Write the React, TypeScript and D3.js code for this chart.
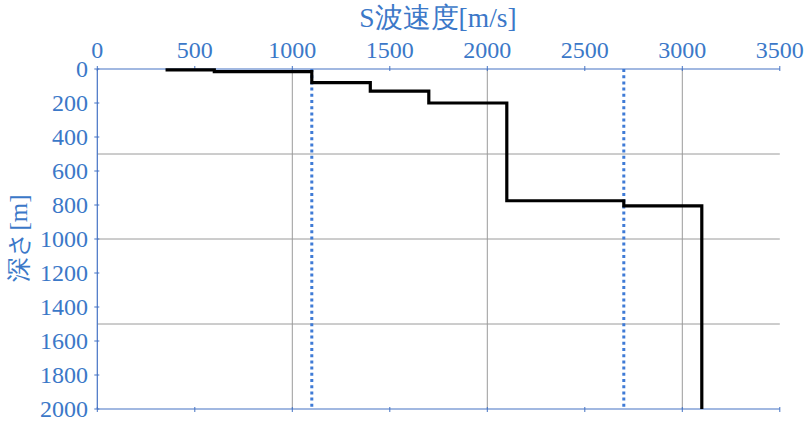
import React from "react";
import * as d3 from "d3";

// Data: layered S-wave velocity profile
const velocities = [350, 600, 1100, 1400, 1700, 2100, 2700, 3100]; // m/s
const layerDepths = [5, 15, 80, 130, 200, 775, 805, 2000]; // m (bottom of step at each velocity)
const refVelocities = [1100, 2700]; // dotted reference lines
const xTicks = [0, 500, 1000, 1500, 2000, 2500, 3000, 3500];
const yTicks = [0, 200, 400, 600, 800, 1000, 1200, 1400, 1600, 1800, 2000];
const xGrid = [1000, 2000, 3000];
const yGrid = [500, 1000, 1500];
const xTitle = "S波速度[m/s]";
const yTitle = "深さ[m]";

const W = 810;
const H = 426;
const left = 97.3;
const right = 779.8;
const top = 69;
const bottom = 409;

const AXIS = "#4472C4";
const TEXT = "#3B78C8";
const FONT = '"Liberation Serif", "Times New Roman", "DejaVu Serif", serif';
const tStyle = { fontFamily: FONT } as React.CSSProperties;

export default function App() {
  const x = d3.scaleLinear().domain([0, 3500]).range([left, right]);
  const y = d3.scaleLinear().domain([0, 2000]).range([top, bottom]);

  // horizontal at depth d_{i-1} up to v_i, then vertical at v_i down to d_i
  const stepPts: [number, number][] = [];
  for (let i = 0; i < velocities.length; i++) {
    const d0 = i === 0 ? layerDepths[0] : layerDepths[i - 1];
    stepPts.push([velocities[i], d0]);
    if (i > 0) stepPts.push([velocities[i], layerDepths[i]]);
  }
  const line = d3
    .line<[number, number]>()
    .x((d) => x(d[0]))
    .y((d) => y(d[1]));

  return (
    <svg
      width={W}
      height={H}
      style={{ position: "absolute", left: 0, top: 0, background: "#fff" }}
    >
      {/* grid */}
      {xGrid.map((g) => (
        <line key={"gx" + g} x1={x(g)} x2={x(g)} y1={top} y2={bottom} stroke="#9a9a9a" strokeWidth={1} />
      ))}
      {yGrid.map((g) => (
        <line key={"gy" + g} x1={left} x2={right} y1={y(g)} y2={y(g)} stroke="#9a9a9a" strokeWidth={1} />
      ))}

      {/* axes */}
      <line x1={left} x2={right} y1={top} y2={top} stroke={AXIS} strokeWidth={1.2} />
      <line x1={left} x2={right} y1={bottom} y2={bottom} stroke={AXIS} strokeWidth={1.2} />
      <line x1={left} x2={left} y1={top} y2={bottom} stroke={AXIS} strokeWidth={1.2} />
      {xTicks.map((t) => (
        <g key={"xt" + t}>
          <line x1={x(t)} x2={x(t)} y1={top - 3} y2={top + 2} stroke={AXIS} strokeWidth={1} />
          <line x1={x(t)} x2={x(t)} y1={bottom - 2} y2={bottom + 3} stroke={AXIS} strokeWidth={1} />
          <text x={x(t)} y={top - 11} textAnchor="middle" fontSize={24} fill={TEXT} style={tStyle}>
            {t}
          </text>
        </g>
      ))}
      {yTicks.map((t) => (
        <g key={"yt" + t}>
          <line x1={left - 3} x2={left + 2} y1={y(t)} y2={y(t)} stroke={AXIS} strokeWidth={1} />
          <text x={88} y={y(t)} dy="0.35em" textAnchor="end" fontSize={24} fill={TEXT} style={tStyle}>
            {t}
          </text>
        </g>
      ))}

      {/* reference dotted lines */}
      {refVelocities.map((v) => (
        <line
          key={"r" + v}
          x1={x(v)}
          x2={x(v)}
          y1={top}
          y2={bottom}
          stroke="#3F7BD6"
          strokeWidth={3}
          strokeDasharray="3 3.2"
        />
      ))}

      {/* profile */}
      <path d={line(stepPts) || ""} fill="none" stroke="#000" strokeWidth={3.2} />

      {/* titles */}
      <text x={438} y={27} textAnchor="middle" fontSize={27.5} fill={TEXT} style={tStyle}>
        {xTitle}
      </text>
      <text
        transform={`translate(27,238) rotate(-90)`}
        textAnchor="middle"
        fontSize={25}
        fill={TEXT}
        style={tStyle}
      >
        {yTitle}
      </text>
    </svg>
  );
}
